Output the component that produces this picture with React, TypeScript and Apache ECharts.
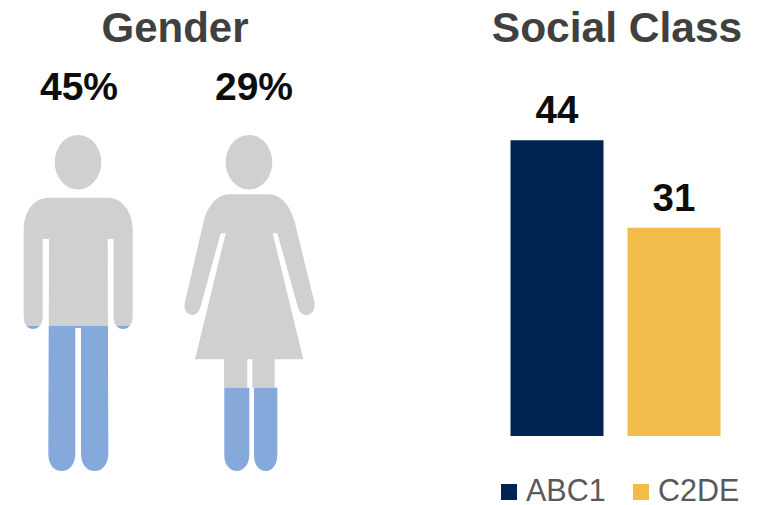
import React, { useEffect, useRef } from "react";
import * as echarts from "echarts";

const genderCategories = ["Male", "Female"];
const genderValues = [45, 29];
const classCategories = ["ABC1", "C2DE"];
const abc1Values = [44, null];
const c2deValues = [null, 31];

const FONT = "Liberation Sans, Arial, sans-serif";
const GREY = "#CFD1D0";
const BLUE = "#86A9DB";
const NAVY = "#002554";
const GOLD = "#F1BD4A";
const classColors = [NAVY, GOLD];
const legendSwatchX = [501, 633];
const legendTextX = [526, 658];

const HEAD_M = "M-23.3 27.3 A23.3 27.3 0 1 1 23.3 27.3 A23.3 27.3 0 1 1 -23.3 27.3 Z ";
const MAN =
  HEAD_M +
  "M-29.7 62.7 L30 62.7 C45 62.7 54.7 78 54.7 95 L54.7 181 C54.7 190 50 194 45 194 C40 194 35.5 190 35.5 181 L35.5 104 L29.7 104 L30.3 318 C30.3 330 24 336 17 336 C9 336 3 330 3 318 L3 193 L-2.7 193 L-2.7 318 C-2.7 330 -9 336 -16 336 C-24 336 -29.7 330 -29.7 318 L-29 104 L-35.3 104 L-35.3 181 C-35.3 190 -40 194 -45 194 C-50 194 -54.3 190 -54.3 181 L-54.3 95 C-54.3 78 -45 62.7 -29.7 62.7 Z";
const WOMAN =
  HEAD_M +
  "M-19 59.3 L19.3 59.3 C33 59.3 42 72 46 88.3 L65.3 166.7 C67 175 62 180 57 180 C52 180 49 175 47.7 167.7 L28.3 98.3 L23.7 98.3 L54.3 224.3 L25.7 224.3 L25.7 320 C25.7 330 20 336 14 336 C8 336 3.3 330 3.3 320 L3.3 224.3 L-1.7 224.3 L-1.7 320 C-1.7 330 -7 336 -13 336 C-20 336 -25 330 -25 320 L-25 224.3 L-54 224.3 L-23.3 98.3 L-28.3 98.3 L-47.3 167.7 C-49 175 -52 180 -56.5 180 C-62 180 -66 175 -64 166.7 L-45.7 88.3 C-42 72 -33 59.3 -19 59.3 Z";
const WOMAN_LEGS =
  "M-24.7 200 L0.3 200 L0.3 320 C0.3 330 -6 336 -12 336 C-19 336 -24.7 330 -24.7 320 Z M5 200 L28.3 200 L28.3 320 C28.3 330 23 336 17 336 C10 336 5 330 5 320 Z";

echarts.graphic.registerShape("manFigure", echarts.graphic.extendPath(MAN, {}));
echarts.graphic.registerShape("womanFigure", echarts.graphic.extendPath(WOMAN, {}));
echarts.graphic.registerShape("womanLegs", echarts.graphic.extendPath(WOMAN_LEGS, {}));

const greyShapes = ["manFigure", "womanFigure"];
const blueShapes = ["manFigure", "womanLegs"];
const labelNudge = [1, 5];

function renderPerson(params: any, api: any) {
  const i = api.value(0);
  const v = api.value(1);
  const level = api.coord([i, v]);
  const cx = level[0];
  const top = params.coordSys.y;
  const h = params.coordSys.height;
  const cut = level[1] - top;
  return {
    type: "group",
    children: [
      {
        type: greyShapes[i],
        x: cx,
        y: top,
        shape: {},
        style: { fill: GREY },
        clipPath: { type: "rect", shape: { x: -90, y: -5, width: 180, height: cut + 5 } },
      },
      {
        type: blueShapes[i],
        x: cx,
        y: top,
        shape: {},
        style: { fill: BLUE },
        clipPath: { type: "rect", shape: { x: -90, y: cut, width: 180, height: h - cut + 5 } },
      },
      {
        type: "text",
        x: cx + labelNudge[i],
        y: top - 49,
        style: {
          text: `${v}%`,
          fill: "#0D0D0D",
          font: `bold 39px ${FONT}`,
          align: "center",
          verticalAlign: "middle",
        },
      },
    ],
  };
}

export default function App() {
  const ref = useRef<HTMLDivElement>(null);
  useEffect(() => {
    const chart = echarts.init(ref.current!, undefined, { renderer: "svg" });
    const barLabel = {
      show: true,
      position: "top",
      distance: 11,
      color: "#0D0D0D",
      fontFamily: FONT,
      fontWeight: "bold",
      fontSize: 38.5,
    };
    chart.setOption({
      animation: false,
      backgroundColor: "#fff",
      textStyle: { fontFamily: FONT },
      title: [
        {
          text: "Gender",
          left: 170,
          top: 1,
          textAlign: "center",
          textStyle: { fontFamily: FONT, fontWeight: "bold", fontSize: 42, color: "#404040" },
        },
        {
          text: "Social Class",
          left: 612,
          top: 1,
          textAlign: "center",
          textStyle: { fontFamily: FONT, fontWeight: "bold", fontSize: 42.5, color: "#404040" },
        },
      ],
      graphic: classCategories.flatMap((name, i) => [
        {
          type: "rect",
          shape: { x: legendSwatchX[i], y: 484, width: 16, height: 16 },
          style: { fill: classColors[i] },
        },
        {
          type: "text",
          x: legendTextX[i],
          y: 489.5,
          style: {
            text: name,
            fill: "#595959",
            font: `30.5px ${FONT}`,
            align: "left",
            verticalAlign: "middle",
          },
        },
      ]),
      grid: [
        { left: 78, top: 135, width: 171, height: 336 },
        { left: 498.5, top: 100, width: 234, height: 336 },
      ],
      xAxis: [
        { gridIndex: 0, type: "category", data: genderCategories, show: false, boundaryGap: false },
        { gridIndex: 1, type: "category", data: classCategories, show: false },
      ],
      yAxis: [
        { gridIndex: 0, type: "value", min: 7.5, max: 94.2, show: false },
        { gridIndex: 1, type: "value", min: 0, max: 50, show: false },
      ],
      series: [
        {
          type: "custom",
          name: "Gender",
          xAxisIndex: 0,
          yAxisIndex: 0,
          renderItem: renderPerson,
          encode: { x: 0, y: 1 },
          data: genderValues.map((v, i) => [i, v]),
        },
        {
          type: "bar",
          name: "ABC1",
          stack: "c",
          xAxisIndex: 1,
          yAxisIndex: 1,
          barWidth: 93,
          itemStyle: { color: NAVY },
          label: barLabel,
          data: abc1Values,
        },
        {
          type: "bar",
          name: "C2DE",
          stack: "c",
          xAxisIndex: 1,
          yAxisIndex: 1,
          barWidth: 93,
          itemStyle: { color: GOLD },
          label: barLabel,
          data: c2deValues,
        },
      ],
    });
    return () => chart.dispose();
  }, []);
  return <div ref={ref} style={{ position: "absolute", left: 0, top: 0, width: 764, height: 505 }} />;
}
